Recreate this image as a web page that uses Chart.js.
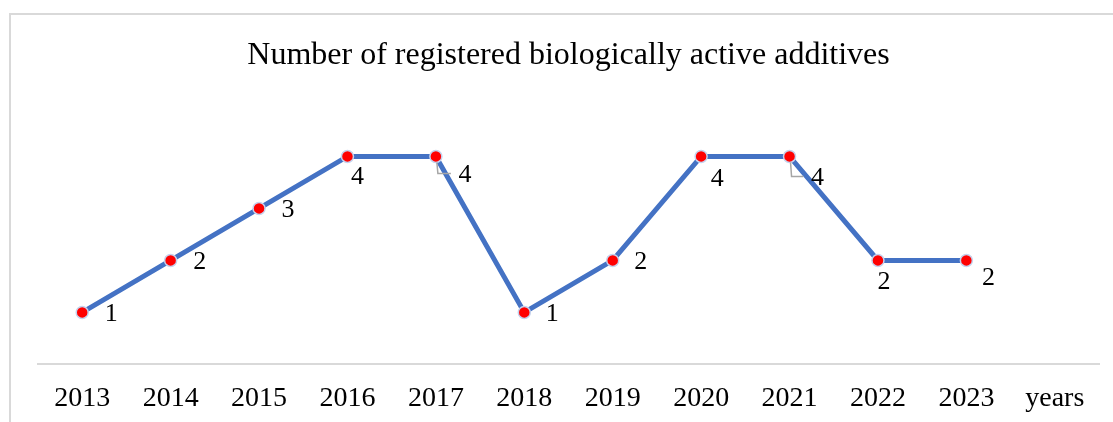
<!DOCTYPE html>
<html>
<head>
<meta charset="utf-8">
<script src="https://cdn.jsdelivr.net/npm/chart.js@4"></script>
<style>
  html, body { margin: 0; padding: 0; background: #fff; }
  #wrap { width: 1113px; height: 422px; position: relative; }
</style>
</head>
<body>
<div id="wrap"><canvas id="chart" width="1113" height="422"></canvas></div>
<script>
const years = ['2013', '2014', '2015', '2016', '2017', '2018', '2019', '2020', '2021', '2022', '2023', 'years'];
const counts = [1, 2, 3, 4, 4, 1, 2, 4, 4, 2, 2, null];

// where each value label sits relative to its point (dx, dy), and whether it has a leader line
const labelOffsets = [[29, 2], [29, 2], [29, 2], [10, 21], [29, 19], [28, 2], [28, 2], [16, 23], [28, 22], [6, 22], [22, 18], null];
const leaderLines = [false, false, false, false, true, false, false, false, true, false, false, false];

const frameAndLabels = {
    id: 'frameAndLabels',
    beforeDraw(chart) {
        const ctx = chart.ctx;
        ctx.save();
        ctx.strokeStyle = '#d9d9d9';
        ctx.lineWidth = 2;
        ctx.strokeRect(10, 14, 1300, 600);
        ctx.restore();
    },
    afterDatasetsDraw(chart) {
        const ctx = chart.ctx;
        const meta = chart.getDatasetMeta(0);
        ctx.save();
        ctx.font = '26px "Liberation Serif", "Times New Roman", serif';
        ctx.fillStyle = '#000';
        ctx.textAlign = 'center';
        ctx.textBaseline = 'middle';
        meta.data.forEach((pt, i) => {
            if (counts[i] == null) return;
            const off = labelOffsets[i];
            const lx = pt.x + off[0];
            const ly = pt.y + off[1];
            if (leaderLines[i]) {
                ctx.strokeStyle = '#a6a6a6';
                ctx.lineWidth = 1.5;
                ctx.beginPath();
                ctx.moveTo(pt.x + 1, pt.y + 6);
                ctx.lineTo(pt.x + 2, ly - 2);
                ctx.lineTo(lx - 14, ly - 2);
                ctx.stroke();
            }
            ctx.fillText(String(counts[i]), lx, ly);
        });
        ctx.restore();
    }
};

new Chart(document.getElementById('chart'), {
    type: 'line',
    data: {
        labels: years,
        datasets: [{
            data: counts,
            borderColor: '#4472c4',
            borderWidth: 5,
            backgroundColor: '#ff0000',
            pointBackgroundColor: '#ff0000',
            pointBorderColor: '#c5d3ee',
            pointBorderWidth: 1.5,
            pointRadius: 6,
            tension: 0,
            spanGaps: false
        }]
    },
    options: {
        responsive: false,
        animation: false,
        layout: { padding: { top: 13, left: 38, right: 14, bottom: -10 } },
        plugins: {
            legend: { display: false },
            tooltip: { enabled: false },
            title: {
                display: true,
                text: 'Number of registered biologically active additives',
                color: '#000',
                font: { family: '"Liberation Serif", "Times New Roman", serif', size: 32, weight: 'normal' },
                padding: { top: 23, bottom: 30 }
            }
        },
        scales: {
            x: {
                offset: true,
                grid: { display: false, drawTicks: false },
                border: { display: true, color: '#d9d9d9', width: 2 },
                ticks: {
                    color: '#000',
                    padding: 17,
                    maxRotation: 0,
                    autoSkip: false,
                    font: { family: '"Liberation Serif", "Times New Roman", serif', size: 28 }
                }
            },
            y: {
                display: false,
                min: 0,
                max: 5
            }
        }
    },
    plugins: [frameAndLabels]
});
</script>
</body>
</html>
